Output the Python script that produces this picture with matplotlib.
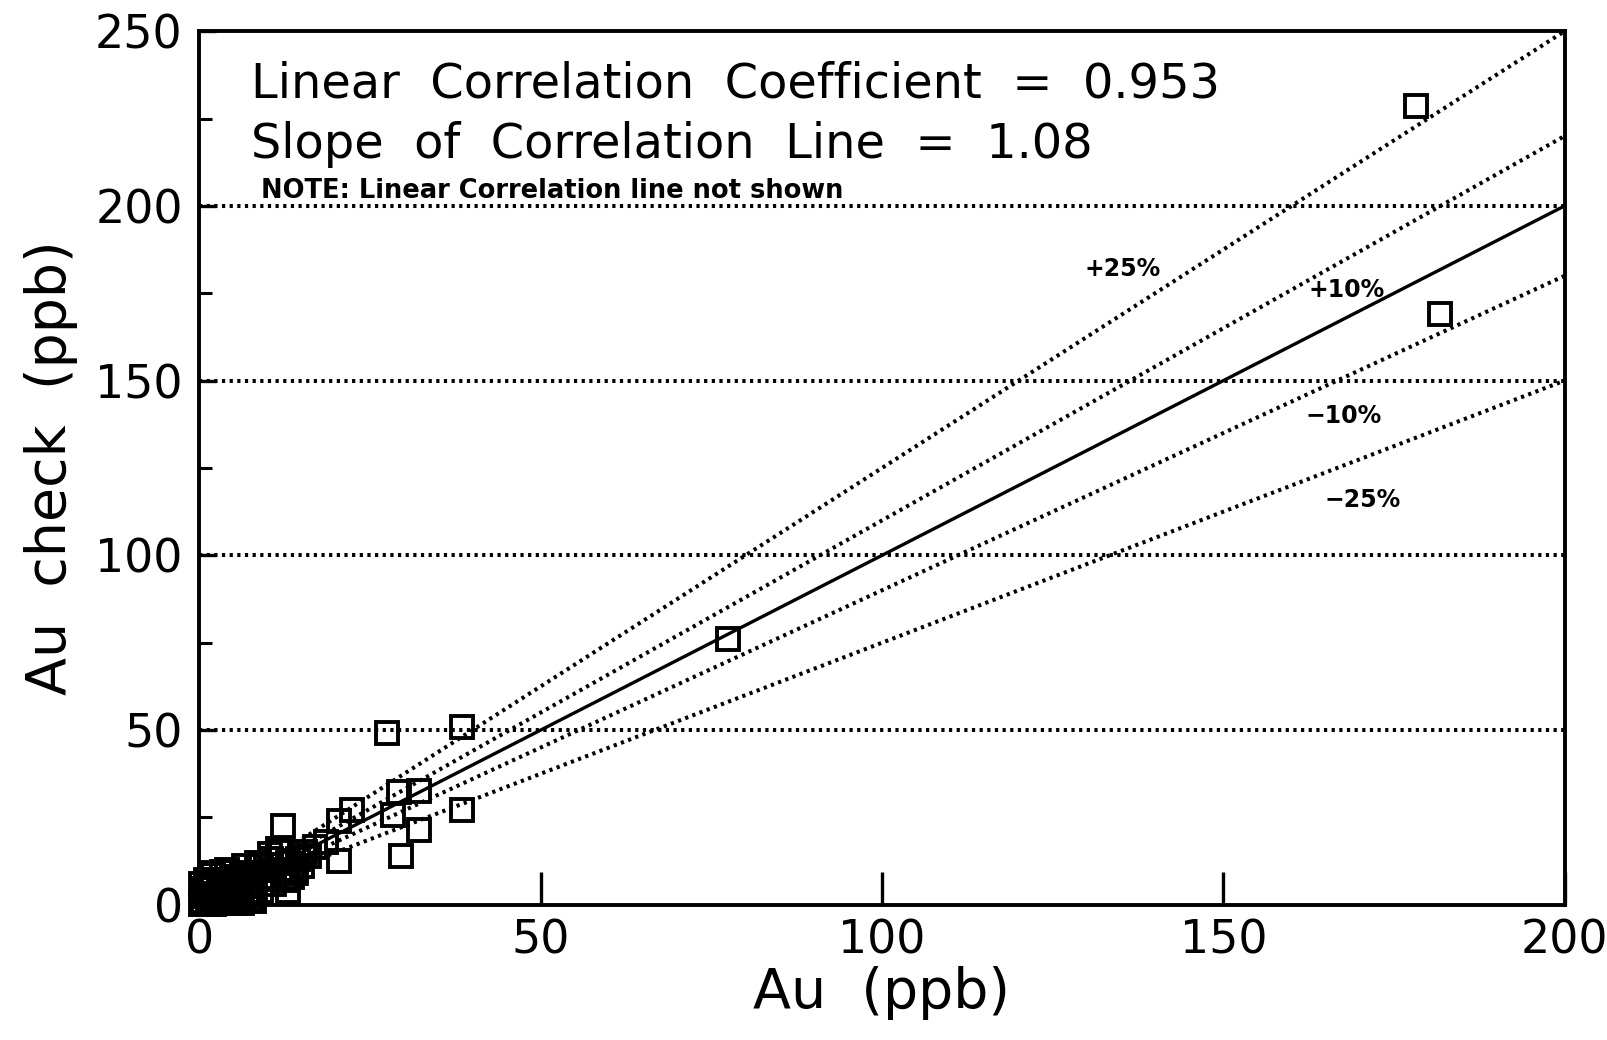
import numpy as np
import matplotlib
matplotlib.use('Agg')
import matplotlib.pyplot as plt

# sample pairs: original Au vs check Au (ppb)
au = [178.3, 181.8, 77.4, 27.5, 38.5, 38.5, 29.3, 32.2, 28.3, 32.2, 29.5,
      22.3, 20.5, 20.5, 12.3, 10.3, 14.2, 17.0, 18.5, 15.5,
      0.5, 1.0, 1.5, 2.0, 2.5, 3.0, 3.0, 4.0, 4.5, 5.0, 5.0, 6.0, 6.0, 7.0,
      7.0, 8.0, 8.0, 9.0, 9.0, 10.0, 10.5, 11.0, 11.0, 12.0, 12.5, 13.0,
      13.0, 14.0, 2.0, 4.0, 6.5, 8.5, 1.0, 3.0, 0.5, 2.0, 5.5, 7.5, 14.5, 11.5,
      0.2, 1.2, 2.2, 3.5, 4.2, 5.2, 6.2, 7.2, 8.2, 0.8, 1.8, 2.8, 3.8, 4.8,
      5.8, 6.8, 9.5, 10.5, 12.0, 13.5, 15.0, 16.0, 0.3, 1.5, 3.3, 6.3]
au_check = [228.6, 169.0, 76.2, 49.2, 51.0, 27.0, 32.2, 32.5, 25.8, 21.4, 14.0,
            27.0, 24.0, 12.6, 22.6, 14.6, 9.0, 16.5, 18.0, 15.0,
            1.0, 3.0, 0.5, 5.0, 2.0, 4.0, 1.0, 6.0, 3.0, 0.5, 8.0, 2.0, 5.0, 9.0,
            3.0, 1.0, 6.0, 11.0, 4.0, 8.0, 13.0, 6.0, 10.0, 15.0, 7.0, 12.0,
            4.0, 10.0, 9.0, 10.0, 11.0, 12.0, 7.0, 7.0, 4.5, 0.5, 3.5, 2.0, 13.0, 16.0,
            0.2, 0.3, 0.2, 0.4, 1.2, 0.8, 0.4, 5.5, 3.5, 2.5, 6.5, 5.5, 2.5, 5.5,
            6.5, 7.0, 7.5, 11.5, 10.0, 8.0, 11.0, 14.0, 6.0, 8.5, 9.5, 8.5]

guide_pct = [25, 10, -10, -25]
guide_label_x = [135.3, 168.0, 167.7, 170.4]
guide_label_y = [182.0, 175.8, 139.8, 115.8]
hlines = [50, 100, 150, 200]

r_value = 0.953
slope = 1.08

fig = plt.figure(figsize=(16.08, 10.4), dpi=100)
ax = fig.add_axes([0.124, 0.130, 0.849, 0.840])

xs = np.array([0, 200])
dot = (0, (0.8, 1.1))
for h in hlines:
    ax.plot(xs, [h, h], color='black', lw=2.9, ls=dot)
for p in guide_pct:
    ax.plot(xs, xs * (1 + p / 100), color='black', lw=2.9, ls=dot)
ax.plot(xs, xs, color='black', lw=2.4)

ax.plot(au, au_check, ls='none', marker='s', markersize=16.5, markerfacecolor='none',
        markeredgecolor='black', markeredgewidth=2.8, clip_on=False, zorder=5)

for p, lx, ly in zip(guide_pct, guide_label_x, guide_label_y):
    sign = '+' if p > 0 else '\u2212'
    ax.text(lx, ly, f'{sign}{abs(p)}%', fontsize=17, fontweight='bold',
            ha='center', va='center')

ax.text(7.5, 235, f'Linear  Correlation  Coefficient  =  {r_value}', fontsize=34.5,
        va='center', ha='left')
ax.text(7.5, 217.5, f'Slope  of  Correlation  Line  =  {slope}', fontsize=34.5,
        va='center', ha='left')
ax.text(9, 204.3, 'NOTE: Linear Correlation line not shown', fontsize=18.5,
        fontweight='bold', va='center', ha='left')

ax.set_xlim(0, 200)
ax.set_ylim(0, 250)
ax.set_xticks([0, 50, 100, 150, 200])
ax.set_yticks([0, 50, 100, 150, 200, 250])
ax.set_yticks([25, 75, 125, 175, 225], minor=True)
ax.tick_params(axis='both', which='major', direction='in', labelsize=33, width=2.4)
ax.tick_params(axis='x', which='major', length=24, pad=10)
ax.tick_params(axis='y', which='major', length=12, pad=12)
ax.tick_params(axis='y', which='minor', direction='in', length=9, width=2.2)
for s in ax.spines.values():
    s.set_linewidth(2.8)

ax.set_xlabel('Au  (ppb)', fontsize=40, labelpad=2)
ax.set_ylabel('Au  check  (ppb)', fontsize=40, labelpad=12)

fig.savefig('out.png', dpi=100)
